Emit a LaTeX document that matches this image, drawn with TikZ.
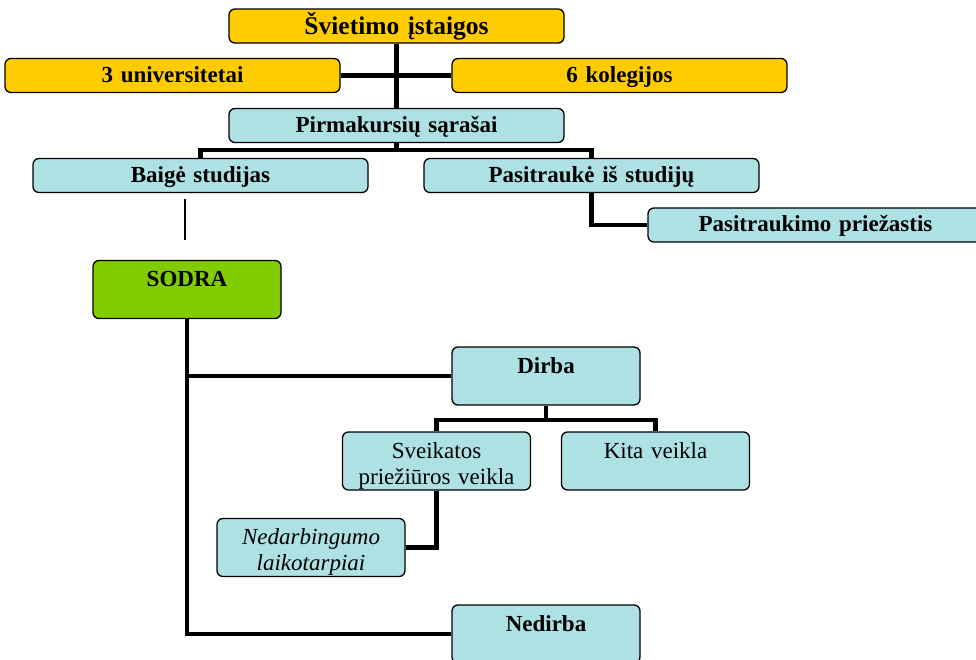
\documentclass[tikz,border=0pt]{standalone}
\usepackage{fontspec}
\setmainfont{Liberation Serif}
\definecolor{boxyellow}{RGB}{255,204,0}
\definecolor{boxcyan}{RGB}{173,225,228}
\definecolor{boxgreen}{RGB}{128,204,0}
\begin{document}
\begin{tikzpicture}[x=1pt, y=-1pt,
  box/.style={draw, line width=1.3pt, rounded corners=6pt, inner xsep=0pt,
    align=center, font=\fontsize{23}{26}\selectfont\bfseries},
  flatbox/.style={box, text width=335pt, inner ysep=3pt, text height=21pt, text depth=7pt},
  tallbox/.style={box, text width=188pt, inner ysep=8pt, text height=18pt, text depth=24pt},
  plain/.style={font=\fontsize{23}{26}\selectfont},
  slanted/.style={font=\fontsize{23}{26}\selectfont\itshape},
  link/.style={line width=4.5pt},
  thinlink/.style={line width=1.6pt}]
  \useasboundingbox (0,0) rectangle (976,660);
  \clip (0,0) rectangle (976,660);

  % Institutions
  \node[flatbox, fill=boxyellow, font=\fontsize{25.5}{28}\selectfont\bfseries,
        text height=23pt, text depth=5pt] (svi) at (396.5,26) {Švietimo įstaigos};
  \node[flatbox, fill=boxyellow] (uni) at (172.5,75.5) {3 universitetai};
  \node[flatbox, fill=boxyellow] (kol) at (619.5,75.5) {6 kolegijos};

  % Student lists
  \node[flatbox, fill=boxcyan] (pir) at (396.5,125.5) {Pirmakursių sąrašai};
  \node[flatbox, fill=boxcyan] (bai) at (200.5,175.5) {Baigė studijas};
  \node[flatbox, fill=boxcyan] (pas) at (591.5,175.5) {Pasitraukė iš studijų};
  \node[flatbox, fill=boxcyan] (pri) at (815.5,225) {Pasitraukimo priežastis};

  % SODRA data
  \node[tallbox, fill=boxgreen] (sod) at (187,289.5) {SODRA};
  \node[tallbox, fill=boxcyan] (dir) at (546,376) {Dirba};
  \node[tallbox, fill=boxcyan, plain] (sve) at (436.5,461) {Sveikatos\\priežiūros veikla};
  \node[tallbox, fill=boxcyan, plain] (kit) at (655.5,461) {Kita veikla};
  \node[tallbox, fill=boxcyan, slanted] (ned) at (311,547.5) {Nedarbingumo\\laikotarpiai};
  \node[tallbox, fill=boxcyan] (nedir) at (546,634) {Nedirba};

  % Connectors
  \draw[link] (svi.south) -- (pir.north);
  \draw[link] (uni.east) -- (kol.west);
  \coordinate (pirfork) at (396.5,150);
  \draw[link] (pir.south) -- (pirfork);
  \draw[link] (bai.north) |- (pirfork) -| (pas.north);
  \draw[link] (pas.south) |- (pri.west);

  \coordinate (baitop) at (185,199);
  \coordinate (baibot) at (185,240);
  \draw[thinlink] (baitop) -- (baibot);

  \draw[link] (sod.south) |- (nedir.west);
  \draw[link] (sod.south |- dir.west) -- (dir.west);
  \coordinate (dirfork) at (546,420);
  \draw[link] (dir.south) -- (dirfork);
  \draw[link] (sve.north) |- (dirfork) -| (kit.north);
  \draw[link] (sve.south) |- (ned.east);
\end{tikzpicture}
\end{document}
